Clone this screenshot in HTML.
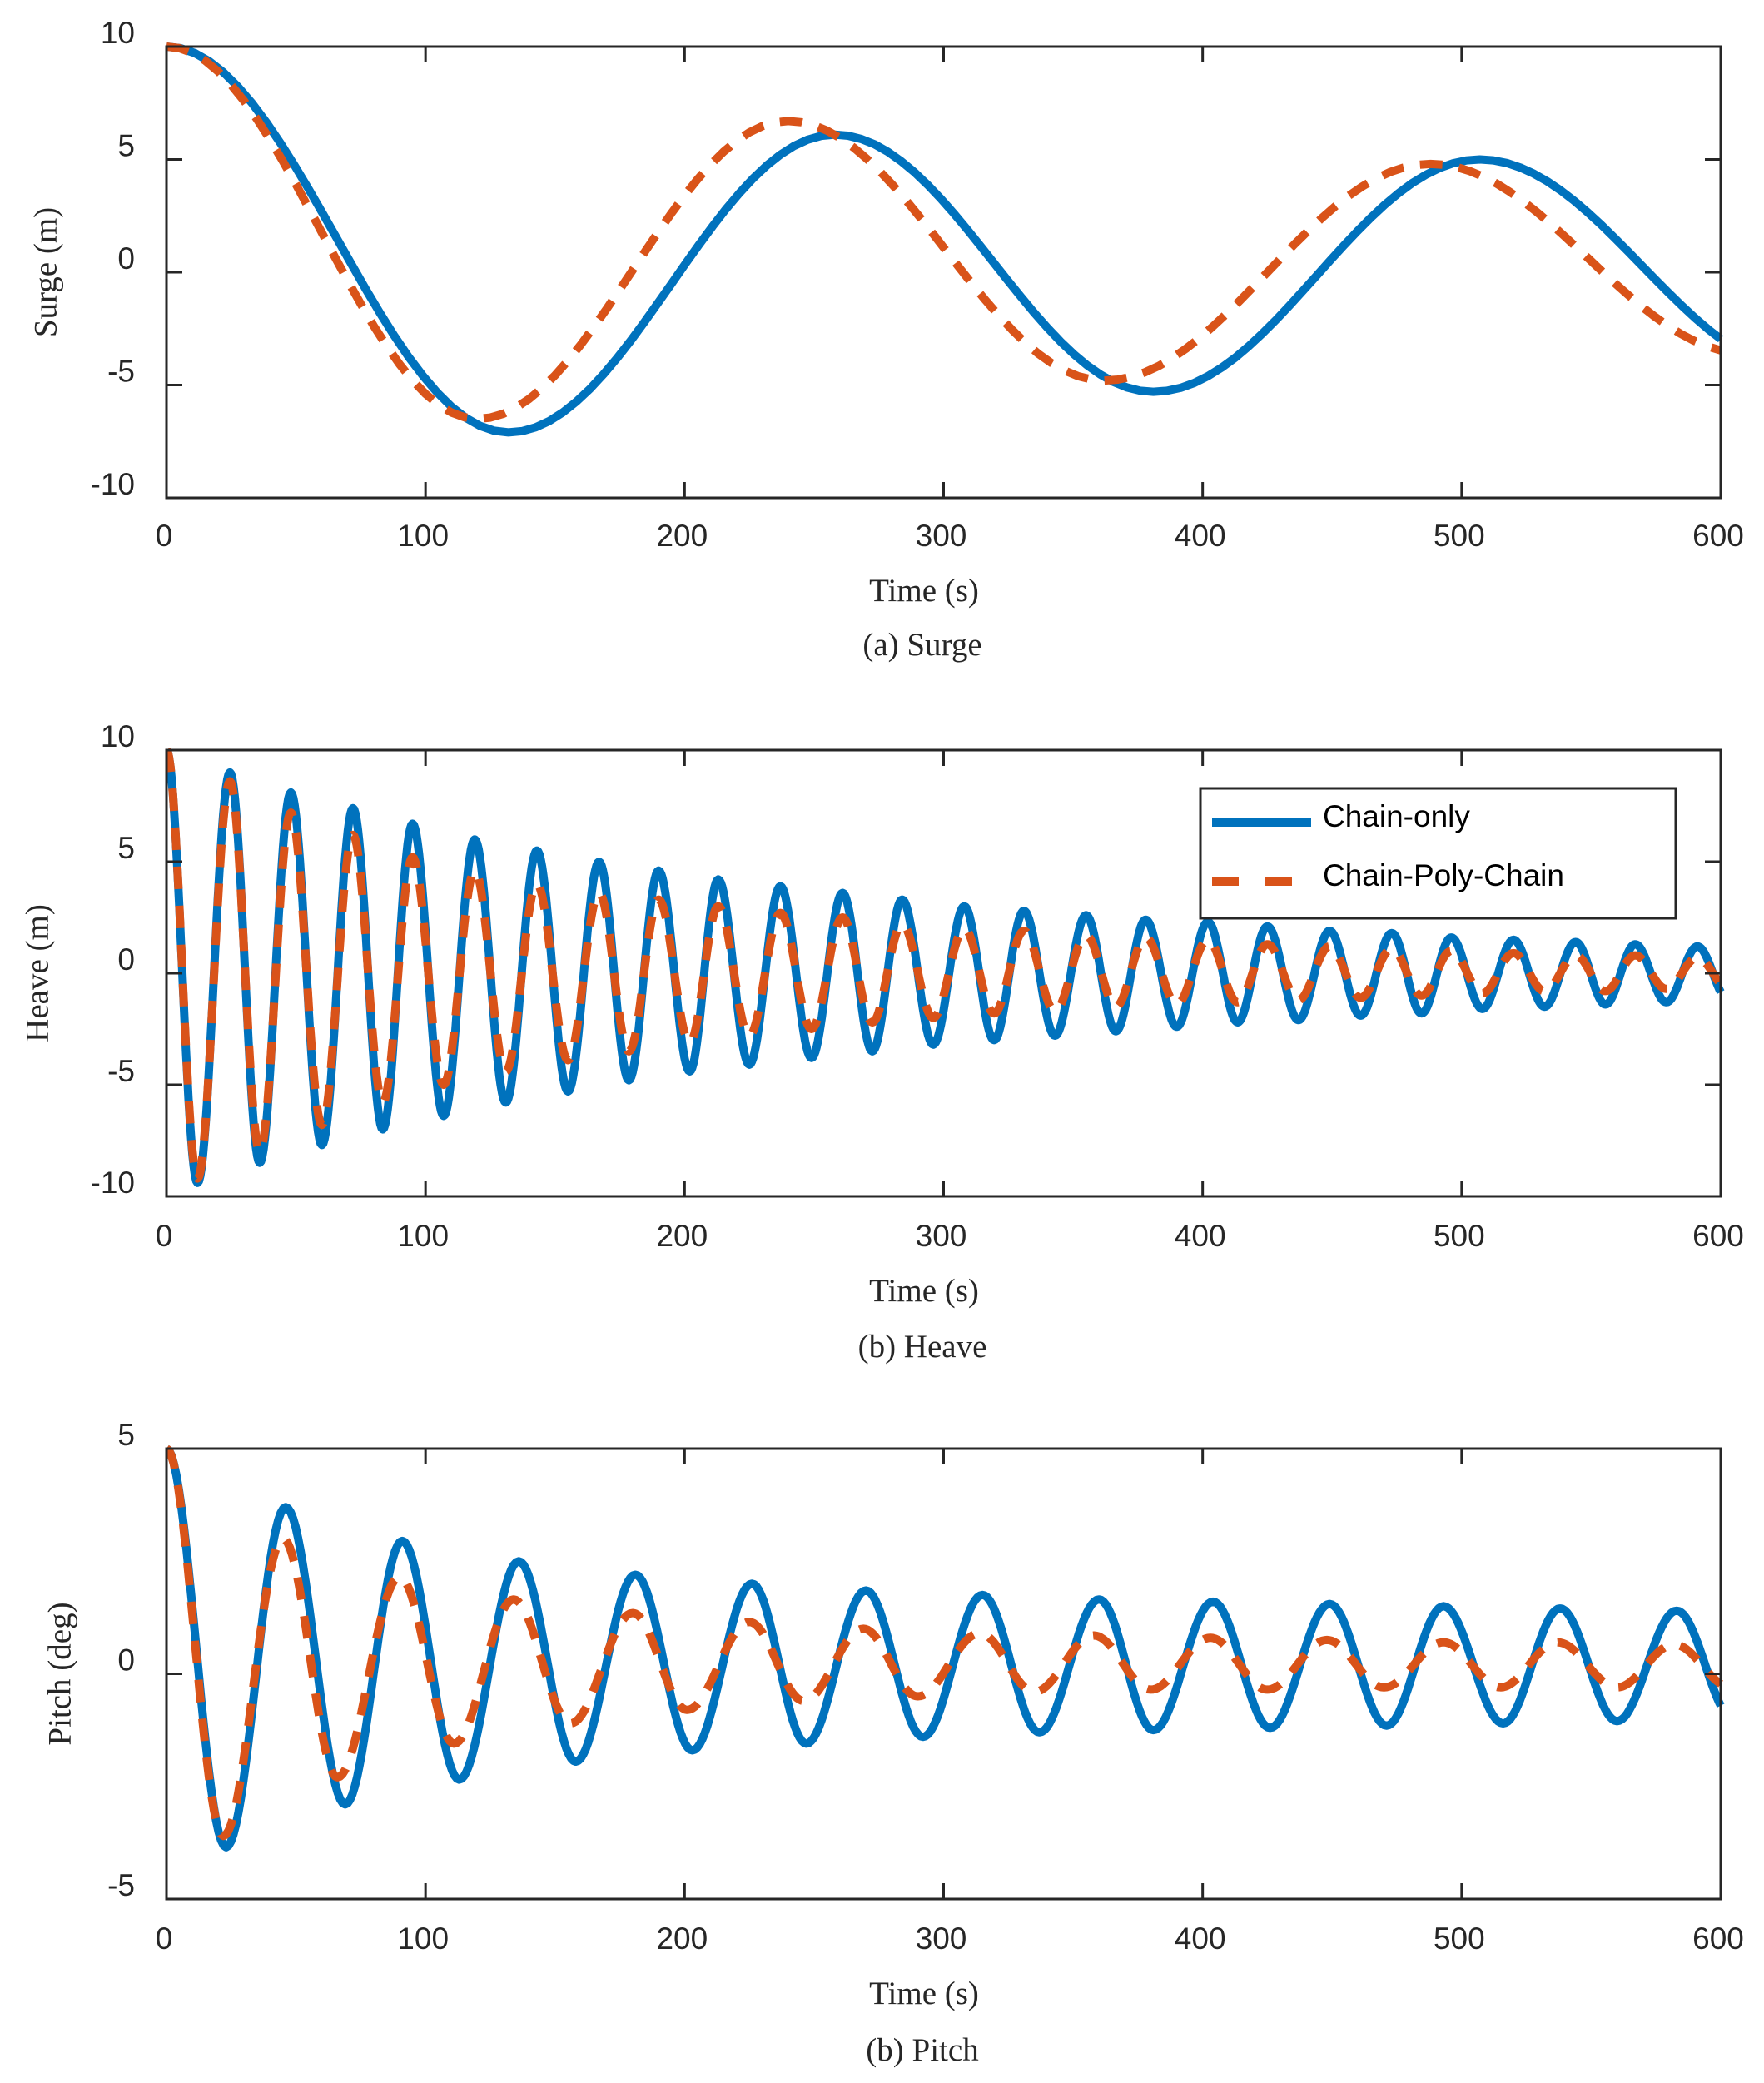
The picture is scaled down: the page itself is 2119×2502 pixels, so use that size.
<!DOCTYPE html>
<html><head><meta charset="utf-8">
<style>
html,body{margin:0;padding:0;background:#fff;}
svg{display:block;}
.tick{font-family:"Liberation Sans",Arial,sans-serif;font-size:37px;fill:#262626;}
.lab{font-family:"Liberation Serif","Times New Roman",serif;font-size:39px;fill:#262626;}
.leg{font-family:"Liberation Sans",Arial,sans-serif;font-size:37px;fill:#000;}
</style></head>
<body>
<svg id="chart" width="2119" height="2502" viewBox="0 0 2119 2502" xmlns="http://www.w3.org/2000/svg"></svg>
<script>
// ---- data (extrema; curve drawn through them) ----
const xTicks = [0,100,200,300,400,500,600];
const surgeYTicks = [10,5,0,-5,-10];
const heaveYTicks = [10,5,0,-5,-10];
const pitchYTicks = [5,0,-5];

const surgeChainT = [0,132,258,381,507,632];
const surgeChainV = [10,-7.1,6.1,-5.3,5.0,-4.4];
const surgeCpcT = [0,120,240,362,488,610];
const surgeCpcV = [10,-6.5,6.7,-4.8,4.8,-3.6];

const heaveT = [0,12,24.5,36,48,60,72,83.5,95,107,119,131,143,155,167,178.5,190,202,213,225,237,249,261,272.5,284,296,308,319.5,331,343,355,366.5,378,390,402,413.5,425,437,449,461,473,484.5,496,508,520,532,544,555.5,567,579,591,603];
const heaveChainV = [10,-9.4,9.0,-8.5,8.1,-7.7,7.4,-7.0,6.7,-6.4,6.0,-5.8,5.5,-5.3,5.0,-4.8,4.6,-4.4,4.2,-4.1,3.9,-3.8,3.6,-3.5,3.3,-3.2,3.0,-3.0,2.8,-2.8,2.6,-2.6,2.4,-2.4,2.3,-2.2,2.1,-2.1,1.9,-1.9,1.8,-1.8,1.6,-1.6,1.5,-1.5,1.4,-1.4,1.3,-1.3,1.2,-1.2];
const heaveCpcV = [10,-9.2,8.6,-8.0,7.2,-6.8,6.2,-5.8,5.2,-5.0,4.6,-4.4,4.0,-3.9,3.6,-3.5,3.3,-3.1,3.0,-2.8,2.7,-2.5,2.5,-2.2,2.2,-2.0,2.0,-1.8,1.9,-1.7,1.7,-1.5,1.6,-1.4,1.5,-1.3,1.3,-1.2,1.2,-1.1,1.1,-1.0,1.0,-0.9,0.9,-0.8,0.8,-0.8,0.8,-0.7,0.7,-0.7];

const pitchChainT = [0,23,46,69,91,113,136,158,181,203,226,247,270,292,315,337,360,381,404,426,449,471,493,516,538,560,583,605];
const pitchChainV = [5,-3.85,3.7,-2.9,2.95,-2.35,2.5,-1.95,2.2,-1.7,2.0,-1.55,1.85,-1.4,1.75,-1.3,1.65,-1.25,1.6,-1.2,1.55,-1.15,1.5,-1.1,1.45,-1.05,1.4,-1.0];
const pitchCpcT = [0,22,45,66,90,111,134,156,180,201,225,246,269,290,314,335,358,380,403,425,448,470,493,515,537,560,582,604];
const pitchCpcV = [5,-3.6,3.0,-2.3,2.15,-1.55,1.65,-1.1,1.35,-0.8,1.15,-0.6,1.0,-0.5,0.9,-0.4,0.85,-0.35,0.8,-0.35,0.75,-0.3,0.7,-0.3,0.7,-0.3,0.65,-0.3];

// ---- layout ----
const NS = "http://www.w3.org/2000/svg";
const svg = document.getElementById('chart');
const L = 200, R = 2067, XMIN = 0, XMAX = 600;
const panels = [
  {key:'surge', top:56, bot:598, ymin:-10, ymax:10, yt:surgeYTicks, ylab:'Surge (m)', ylx:55, cap:'(a) Surge', tickY:656, timeY:722, capY:787,
   series:[[surgeChainT,surgeChainV],[surgeCpcT,surgeCpcV]]},
  {key:'heave', top:901, bot:1437, ymin:-10, ymax:10, yt:heaveYTicks, ylab:'Heave (m)', ylx:45, cap:'(b) Heave', tickY:1497, timeY:1563, capY:1630,
   series:[[heaveT,heaveChainV],[heaveT,heaveCpcV]]},
  {key:'pitch', top:1740, bot:2281, ymin:-5, ymax:5, yt:pitchYTicks, ylab:'Pitch (deg)', ylx:72, cap:'(b) Pitch', tickY:2341, timeY:2407, capY:2475,
   series:[[pitchChainT,pitchChainV],[pitchCpcT,pitchCpcV]]}
];
function mk(tag, attrs, parent){ const e=document.createElementNS(NS,tag); for(const k in attrs) e.setAttribute(k,attrs[k]); (parent||svg).appendChild(e); return e; }
const xs = t => L + (t-XMIN)/(XMAX-XMIN)*(R-L);

function curvePath(T, V, ys){
  let d = '';
  for(let i=0;i<T.length-1;i++){
    const t0=T[i], t1=T[i+1], v0=V[i], v1=V[i+1];
    if(t0>=XMAX) break;
    const N=24;
    for(let k=(i===0?0:1);k<=N;k++){
      let t = t0 + (t1-t0)*k/N;
      let end=false;
      if(t>=XMAX){ t=XMAX; end=true; }
      const f=(t-t0)/(t1-t0);
      const v = v0 + (v1-v0)*(1-Math.cos(Math.PI*f))/2;
      d += (d===''?'M':'L') + xs(t).toFixed(1) + ',' + ys(v).toFixed(1) + ' ';
      if(end) return d;
    }
  }
  return d;
}

panels.forEach(p=>{
  const g = mk('g',{});
  
  
  const ys = v => p.bot - (v-p.ymin)/(p.ymax-p.ymin)*(p.bot-p.top);
  const clipId = 'clip-'+p.key;
  const cp = mk('clipPath',{id:clipId},g);
  mk('rect',{x:L,y:p.top-8,width:R-L+6,height:p.bot-p.top+16},cp);
  const cols=['#0072BD','#D95319'];
  p.series.forEach((s,si)=>{
    const path = mk('path',{d:curvePath(s[0],s[1],ys),fill:'none',stroke:cols[si],'stroke-width':10,'clip-path':'url(#'+clipId+')',
      'stroke-linejoin':'round'},g);
    if(si===1){ path.setAttribute('stroke-dasharray','27 20'); }
    
    
  });
  const fr = mk('rect',{x:L,y:p.top,width:R-L,height:p.bot-p.top,fill:'none',stroke:'#262626','stroke-width':3},g);
  
  
  xTicks.forEach(t=>{
    const x=xs(t);
    mk('line',{x1:x,y1:p.bot,x2:x,y2:p.bot-19,stroke:'#262626','stroke-width':3},g);
    mk('line',{x1:x,y1:p.top,x2:x,y2:p.top+19,stroke:'#262626','stroke-width':3},g);
    const tx = mk('text',{x:x-3,y:p.tickY,'text-anchor':'middle',class:'tick'},g);
    tx.textContent = t;
    
    
  });
  p.yt.forEach(v=>{
    const y=ys(v);
    mk('line',{x1:L,y1:y,x2:L+19,y2:y,stroke:'#262626','stroke-width':3},g);
    mk('line',{x1:R,y1:y,x2:R-19,y2:y,stroke:'#262626','stroke-width':3},g);
    const ty = mk('text',{x:162,y:y-4,'text-anchor':'end',class:'tick'},g);
    ty.textContent = v;
    
    
  });
  const yl = mk('text',{x:p.ylx,y:(p.top+p.bot)/2,'text-anchor':'middle',class:'lab',transform:'rotate(-90 '+p.ylx+' '+((p.top+p.bot)/2)+')','dominant-baseline':'central'},g);
  yl.textContent = p.ylab;
  
  
  const xl = mk('text',{x:1110,y:p.timeY,'text-anchor':'middle',class:'lab'},g);
  xl.textContent = 'Time (s)';
  
  
  const cap = mk('text',{x:1108,y:p.capY,'text-anchor':'middle',class:'lab'},g);
  cap.textContent = p.cap;
  
  
});

// legend
const lg = mk('g',{});


mk('rect',{x:1442,y:947,width:571,height:156,fill:'#fff',stroke:'#262626','stroke-width':3},lg);
const l1 = mk('line',{x1:1456,y1:988,x2:1575,y2:988,stroke:'#0072BD','stroke-width':10},lg);


const l2 = mk('line',{x1:1456,y1:1059,x2:1552,y2:1059,stroke:'#D95319','stroke-width':10,'stroke-dasharray':'32 32'},lg);


const t1 = mk('text',{x:1589,y:993,class:'leg'},lg);
t1.textContent = 'Chain-only';


const t2 = mk('text',{x:1589,y:1064,class:'leg'},lg);
t2.textContent = 'Chain-Poly-Chain';


</script>
</body></html>
